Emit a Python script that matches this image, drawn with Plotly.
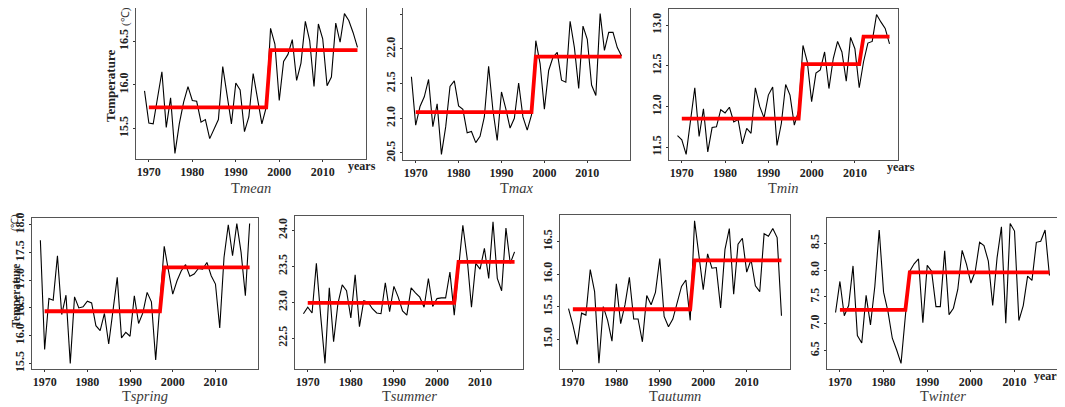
import plotly.graph_objects as go

W, H = 1065, 407
OFF = 8  # the page body keeps its default 8px margin, so the figure sits at (8, 8)

years = list(range(1969, 2019))

tmean = [15.93, 15.56, 15.55, 15.85, 16.15, 15.51, 15.85, 15.21, 15.55, 15.80,
         15.98, 15.82, 15.81, 15.57, 15.60, 15.38, 15.49, 15.60, 16.21, 15.85,
         15.55, 16.02, 15.94, 15.46, 15.63, 16.13, 15.85, 15.55, 15.74, 16.65,
         16.47, 15.82, 16.27, 16.35, 16.52, 16.05, 16.25, 16.73, 16.51, 15.98,
         16.70, 16.53, 15.99, 16.09, 16.71, 16.49, 16.82, 16.74, 16.60, 16.43]

tmax = [21.60, 20.90, 21.17, 21.31, 21.56, 20.88, 21.21, 20.48, 20.88, 21.46,
        21.54, 21.18, 21.13, 20.79, 20.81, 20.65, 20.74, 21.02, 21.75, 21.12,
        20.68, 21.38, 21.14, 20.86, 21.00, 21.51, 21.02, 20.83, 21.05, 22.12,
        21.79, 21.13, 21.69, 21.88, 21.95, 21.55, 21.52, 22.40, 22.02, 21.43,
        22.33, 22.14, 21.48, 21.33, 22.51, 21.98, 22.24, 22.24, 22.02, 21.90]

tmin = [11.64, 11.59, 11.41, 11.79, 12.23, 11.63, 11.97, 11.44, 11.74, 11.75,
        11.96, 11.92, 11.99, 11.81, 11.84, 11.54, 11.73, 11.67, 12.23, 12.00,
        11.86, 12.14, 12.24, 11.52, 11.79, 12.27, 12.14, 11.77, 11.95, 12.75,
        12.55, 12.06, 12.41, 12.45, 12.67, 12.22, 12.59, 12.80, 12.67, 12.31,
        12.85, 12.71, 12.23, 12.55, 12.78, 12.80, 13.13, 13.04, 12.96, 12.77]

tspring = [17.72, 15.75, 16.67, 16.64, 17.44, 16.38, 16.73, 15.50, 16.70, 16.50,
           16.52, 16.62, 16.59, 16.18, 16.09, 16.40, 15.85, 16.41, 17.05, 15.96,
           16.06, 15.99, 16.72, 16.22, 16.41, 16.78, 16.61, 15.56, 16.59, 17.61,
           17.17, 16.75, 16.99, 17.17, 17.28, 17.07, 17.11, 17.21, 17.20, 17.32,
           17.08, 16.93, 16.14, 17.41, 18.00, 17.44, 18.02, 17.50, 16.72, 18.02]

tsummer = [22.84, 22.93, 22.85, 23.54, 22.81, 22.15, 23.20, 22.45, 22.98, 23.24,
           23.16, 22.78, 23.38, 22.66, 23.02, 23.00, 22.91, 22.85, 22.84, 23.27,
           22.87, 23.22, 23.07, 22.88, 22.82, 23.20, 23.13, 23.07, 22.93, 23.33,
           22.94, 23.05, 23.06, 23.06, 23.42, 22.82, 23.47, 24.07, 23.61, 22.93,
           23.54, 23.46, 23.75, 23.33, 24.12, 23.33, 23.16, 24.03, 23.54, 23.70]

tautumn = [15.47, 15.22, 14.92, 15.40, 15.37, 16.07, 15.73, 14.63, 15.50, 15.29,
           14.97, 15.85, 15.24, 15.53, 15.95, 15.31, 15.31, 14.96, 15.67, 15.53,
           15.72, 16.24, 15.35, 15.19, 15.31, 15.58, 15.81, 15.91, 15.29, 16.82,
           16.30, 15.76, 16.31, 16.09, 16.10, 15.48, 16.38, 16.70, 15.69, 16.46,
           16.55, 16.03, 16.22, 15.82, 15.73, 16.62, 16.58, 16.70, 16.56, 15.36]

twinter = [7.21, 7.79, 7.15, 7.34, 8.08, 6.78, 6.64, 7.53, 6.98, 7.70,
           8.75, 7.59, 7.23, 6.73, 6.51, 6.26, 7.15, 7.98, 8.12, 8.21,
           7.02, 8.09, 7.98, 7.32, 7.32, 8.36, 7.17, 7.29, 7.64, 8.37,
           8.11, 7.76, 7.98, 8.52, 8.46, 8.17, 7.34, 8.23, 8.81, 7.01,
           8.87, 8.73, 7.06, 7.34, 7.89, 7.81, 8.52, 8.54, 8.75, 7.90]

# change-point segments: (first year, last year, mean level)
tmean_steps = [(1970, 1997, 15.74), (1998, 2018, 16.40)]
tmax_steps = [(1970, 1997, 21.09), (1998, 2018, 21.89)]
tmin_steps = [(1970, 1997, 11.85), (1998, 2011, 12.52), (2012, 2018, 12.86)]
tspring_steps = [(1970, 1997, 16.44), (1998, 2018, 17.23)]
tsummer_steps = [(1970, 2004, 22.99), (2005, 2018, 23.56)]
tautumn_steps = [(1970, 1997, 15.46), (1998, 2018, 16.21)]
twinter_steps = [(1970, 1985, 7.26), (1986, 2018, 7.96)]

xticks = [1970, 1980, 1990, 2000, 2010]

# name, series, steps, frame box in screen px (x0, x1, y0, y1), y title, "years" label
panels = [
    ("mean", tmean, tmean_steps, (136, 366, 8, 159), True, True),
    ("max", tmax, tmax_steps, (403, 630, 8, 160), False, False),
    ("min", tmin, tmin_steps, (669, 898, 9, 160), False, True),
    ("spring", tspring, tspring_steps, (32, 258, 218, 369), True, False),
    ("summer", tsummer, tsummer_steps, (295, 523, 216, 369), False, False),
    ("autumn", tautumn, tautumn_steps, (560, 790, 215, 369), False, False),
    ("winter", twinter, twinter_steps, (827, 1058, 218, 369), False, True),
]

SERIF = "Liberation Serif"
FW, FH = W - OFF, H - OFF

fig = go.Figure()
annotations = []


def px_x(v):
    return (v - OFF) / FW


def px_y(v):
    return 1 - (v - OFF) / FH


def clamp(v):
    return min(1.0, max(0.0, v))


def note(text, x, y, size, color, bold=False, angle=0):
    return dict(text=text, xref="paper", yref="paper", x=px_x(x), y=px_y(y),
                xanchor="center", yanchor="middle", showarrow=False, textangle=angle,
                font=dict(family=SERIF, size=size, color=color,
                          weight="bold" if bold else "normal"))


for i, (name, vals, steps, box, ytitle, yrs) in enumerate(panels):
    n = "" if i == 0 else str(i + 1)
    xa, ya = "x" + n, "y" + n
    x0, x1, y0, y1 = box

    fig.add_trace(go.Scatter(x=years, y=vals, mode="lines", xaxis=xa, yaxis=ya,
                             line=dict(color="black", width=1.1), showlegend=False))
    sx, sy = [], []
    for a, b, lev in steps:
        sx += [a, b]
        sy += [lev, lev]
    fig.add_trace(go.Scatter(x=sx, y=sy, mode="lines", xaxis=xa, yaxis=ya,
                             line=dict(color="#ff0000", width=3.8), showlegend=False))

    lo, hi = min(vals), max(vals)
    pad = 0.04 * (hi - lo)
    span = years[-1] - years[0]

    axis_common = dict(showline=True, linecolor="#555555", linewidth=1, mirror=True,
                       showgrid=False, zeroline=False, ticks="outside", ticklen=2,
                       tickcolor="#333333", automargin=False,
                       tickfont=dict(family=SERIF, size=12, color="#222222", weight="bold"))
    fig.update_layout({
        "xaxis" + n: dict(domain=[clamp(px_x(x0)), clamp(px_x(x1))], anchor=ya,
                          range=[years[0] - 0.04 * span, years[-1] + 0.04 * span],
                          tickvals=xticks, **axis_common),
        "yaxis" + n: dict(domain=[clamp(px_y(y1)), clamp(px_y(y0))], anchor=xa,
                          range=[lo - pad, hi + pad], dtick=0.5, tickformat=".1f",
                          tickangle=-90, **axis_common),
    })

    top_row = y0 < 100
    annotations.append(note("T<i>" + name + "</i>", (x0 + x1) / 2,
                            188 if top_row else 396, 14.5, "#3a3a3a"))
    if yrs:
        annotations.append(note("years", x1 + (-4 if i == 0 else 3 if i == 2 else -10),
                                y1 + 7, 12, "#222222", bold=True))
    if ytitle:
        if top_row:
            annotations.append(note("Temperature", x0 - 26, y0 + 78,
                                    13, "#222222", bold=True, angle=-90))
            annotations.append(note("(℃)", x0 - 10, y0 + 9, 11, "#333333", angle=-90))
        else:
            annotations.append(note("Temperature", 15.5, y0 + 78,
                                    11.5, "#222222", bold=True, angle=-90))
            annotations.append(note("(℃)", 15, y0 + 5, 10, "#333333", angle=-90))

fig.update_layout(width=FW, height=FH, margin=dict(l=0, r=0, t=0, b=0),
                  plot_bgcolor="white", paper_bgcolor="white",
                  annotations=annotations)

fig.write_html("out.html")
